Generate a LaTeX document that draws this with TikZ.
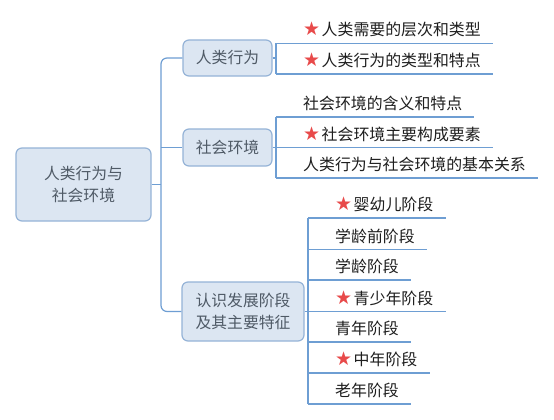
\documentclass[tikz,border=0pt]{standalone}
\usepackage{fontspec}
\setmainfont{Noto Sans CJK SC}
\newfontfamily\starfont{DejaVu Sans}
\definecolor{linec}{HTML}{6E9ED3}
\definecolor{boxfill}{HTML}{DCE6F2}
\definecolor{boxdraw}{HTML}{95B3D7}
\definecolor{boxtext}{HTML}{4F5A66}
\definecolor{leaftext}{HTML}{1E1E1E}
\definecolor{starc}{HTML}{E84A4A}
\newcommand{\mystar}{{\starfont\fontsize{19}{19}\selectfont\color{starc}★}\hspace{1.5pt}}
\begin{document}
\begin{tikzpicture}[x=1pt,y=-1pt,
  conn/.style={draw=linec, line width=1.2pt},
  topicbox/.style={draw=boxdraw, fill=boxfill, line width=1.2pt, rounded corners=6pt,
    text=boxtext, font=\fontsize{15.8}{22}\selectfont, align=center, inner sep=0pt},
  leaf/.style={anchor=base west, inner sep=0pt, text=leaftext, font=\fontsize{15.9}{18}\selectfont},
]
\useasboundingbox (0,0) rectangle (554,420);
\fill[white] (0,0) rectangle (554,420);

% topic boxes
\node[topicbox, minimum width=135pt, minimum height=73pt] (root) at (83.5,184.5) {人类行为与\\社会环境};
\node[topicbox, minimum width=89pt, minimum height=36pt] (b1) at (227.5,58) {人类行为};
\node[topicbox, minimum width=89pt, minimum height=37pt] (b2) at (227.5,147.5) {社会环境};
\node[topicbox, minimum width=122pt, minimum height=59pt] (b3) at (243,311.5) {认识发展阶段\\及其主要特征};

% trunk
\coordinate (tk) at (161,184.5);
\draw[conn] (root.east) -- (root.east -| tk);
\draw[conn, rounded corners=6pt] (b1.west) -| (tk) |- (b3.west);
\draw[conn] (b2.west) -- (b2.west -| tk);

% branch 1 leaves
\coordinate (p11) at (276,43.3);  \coordinate (q11) at (493,43.3);
\coordinate (p12) at (276,74);    \coordinate (q12) at (493,74);
\node[leaf] (l11) at (303,35.8) {\mystar 人类需要的层次和类型};
\node[leaf] (l12) at (303,66.5) {\mystar 人类行为的类型和特点};
\draw[conn] (p11) -- (q11);
\draw[conn] (p12) -- (q12);
\draw[conn] (p11) -- (p12);
\draw[conn] (b1.east) -- (b1.east -| p11);

% branch 2 leaves
\coordinate (p21) at (276,117);  \coordinate (q21) at (474,117);
\coordinate (p22) at (276,147.5);  \coordinate (q22) at (493,147.5);
\coordinate (p23) at (276,178);  \coordinate (q23) at (538,178);
\node[leaf] (l21) at (303,109.5) {社会环境的含义和特点};
\node[leaf] (l22) at (303,140) {\mystar 社会环境主要构成要素};
\node[leaf] (l23) at (303,170.5) {人类行为与社会环境的基本关系};
\draw[conn] (p21) -- (q21);
\draw[conn] (p22) -- (q22);
\draw[conn] (p23) -- (q23);
\draw[conn] (p21) -- (p23);
\draw[conn] (b2.east) -- (b2.east -| p22);

% branch 3 leaves
\coordinate (p31) at (308,218);   \coordinate (q31) at (446,218);
\coordinate (p32) at (308,249.5); \coordinate (q32) at (427,249.5);
\coordinate (p33) at (308,280);   \coordinate (q33) at (411,280);
\coordinate (p34) at (308,311.5); \coordinate (q34) at (446,311.5);
\coordinate (p35) at (308,342);   \coordinate (q35) at (411,342);
\coordinate (p36) at (308,373);   \coordinate (q36) at (430,373);
\coordinate (p37) at (308,404);   \coordinate (q37) at (411,404);
\node[leaf] (l31) at (335,210.5) {\mystar 婴幼儿阶段};
\node[leaf] (l32) at (335,242) {学龄前阶段};
\node[leaf] (l33) at (335,272.5) {学龄阶段};
\node[leaf] (l34) at (335,304) {\mystar 青少年阶段};
\node[leaf] (l35) at (335,334.5) {青年阶段};
\node[leaf] (l36) at (335,365.5) {\mystar 中年阶段};
\node[leaf] (l37) at (335,396.5) {老年阶段};
\foreach \i in {1,...,7}{\draw[conn] (p3\i) -- (q3\i);}
\draw[conn] (p31) -- (p37);
\draw[conn] (b3.east) -- (b3.east -| p34);
\end{tikzpicture}
\end{document}
